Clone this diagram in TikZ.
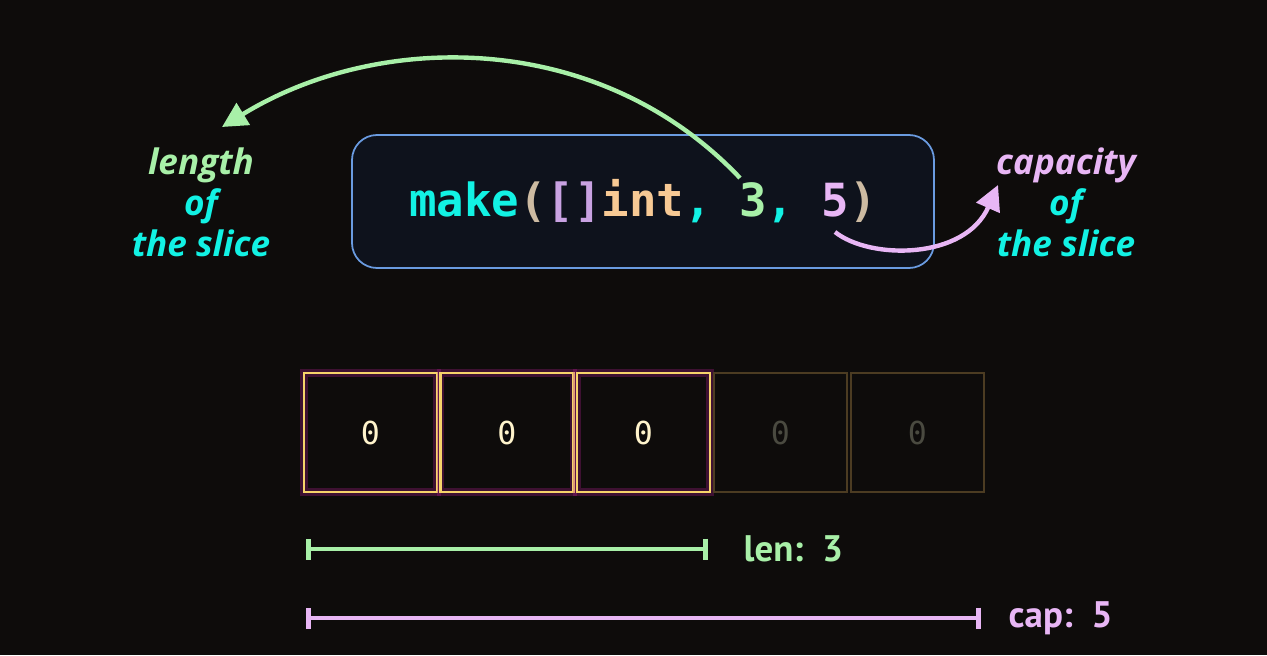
\documentclass[tikz,border=0pt]{standalone}
\usepackage{fontspec}
\setmainfont{Open Sans}
\newfontfamily\codefont{DejaVu Sans Mono}
\newfontfamily\spanfont{PT Sans}
\usetikzlibrary{arrows.meta}

\definecolor{bgdark}{HTML}{0E0C0B}
\definecolor{boxfill}{HTML}{0E121C}
\definecolor{boxline}{HTML}{6A9BE0}
\definecolor{callcyan}{HTML}{12F2E4}
\definecolor{lengreen}{HTML}{A8F0A8}
\definecolor{cappink}{HTML}{E8B6F5}
\definecolor{intpeach}{HTML}{F7C994}
\definecolor{parentan}{HTML}{CDBBA2}
\definecolor{brackpink}{HTML}{C9A2E2}
\definecolor{cellgold}{HTML}{F7D46A}
\definecolor{cellglow}{HTML}{B01E8E}
\definecolor{celldim}{HTML}{4C3C22}
\definecolor{zerolight}{HTML}{FFF4CC}
\definecolor{zerodim}{HTML}{4A4A40}

\begin{document}
\begin{tikzpicture}[
    callbox/.style={draw=boxline, fill=boxfill, line width=1pt, rounded corners=0.5cm,
      minimum width=11.64cm, minimum height=2.66cm, font=\codefont\bfseries\fontsize{26}{30}\selectfont},
    note/.style={align=center, text=callcyan, font=\bfseries\itshape\fontsize{20}{23.5}\selectfont},
    cell/.style={minimum width=2.66cm, minimum height=2.38cm, draw=cellgold, line width=1.6pt,
      text=zerolight, font=\codefont\fontsize{18}{20}\selectfont,
      preaction={draw=cellglow, line width=4.5pt, draw opacity=0.3}},
    spare/.style={minimum width=2.66cm, minimum height=2.38cm, draw=celldim, line width=1.4pt,
      text=zerodim, font=\codefont\fontsize{18}{20}\selectfont},
    pointer/.style={line width=2.5pt, -{Triangle[length=0.5cm, width=0.5cm]}},
    span/.style={line width=1.8pt, {Bar[width=0.42cm, line width=2.8pt]}-{Bar[width=0.42cm, line width=2.8pt]}},
    spanlabel/.style={anchor=west, font=\spanfont\bfseries\fontsize{21}{25}\selectfont}
  ]
  \fill[bgdark] (0,0) rectangle (25.34,13.1);

  % the call
  \node[callbox] (call) at (12.86,9.07)
    {\textcolor{callcyan}{make}\textcolor{parentan}{(}\textcolor{brackpink}{[]}\textcolor{intpeach}{int}\textcolor{callcyan}{,}
     \textcolor{lengreen}{3}\textcolor{callcyan}{,} \textcolor{cappink}{5}\textcolor{parentan}{)}};

  % side notes
  \node[note] (lennote) at (4.02,9.05) {\textcolor{lengreen}{length}\\of\\the slice};
  \node[note] (capnote) at (21.32,9.05) {\textcolor{cappink}{capacity}\\of\\the slice};

  \coordinate (lenfrom) at (14.8,9.54);
  \coordinate (lento) at (4.44,10.56);
  \coordinate (capfrom) at (16.7,8.46);
  \coordinate (capto) at (19.96,9.4);
  \draw[pointer, lengreen] (lenfrom) .. controls (12.0,12.5) and (7.6,12.5) .. (lento);
  \draw[pointer, cappink] (capfrom) .. controls (17.4,7.9) and (19.3,7.9) .. (capto);

  % backing array
  \node[cell] (c1) at (7.41,4.45) {0};
  \node[cell] (c2) at (10.14,4.45) {0};
  \node[cell] (c3) at (12.87,4.45) {0};
  \node[spare] (c4) at (15.61,4.45) {0};
  \node[spare] (c5) at (18.35,4.45) {0};

  % len and cap
  \coordinate (lenstart) at (6.12,2.12);
  \coordinate (lenend) at (14.16,2.12);
  \coordinate (capstart) at (6.12,0.74);
  \coordinate (capend) at (19.62,0.74);
  \draw[span, lengreen] (lenstart) -- (lenend);
  \draw[span, cappink] (capstart) -- (capend);
  \node[spanlabel, text=lengreen] (lenlabel) at (14.75,2.12) {len:\ \ 3};
  \node[spanlabel, text=cappink] (caplabel) at (20.05,0.74) {cap:\ \ 5};
\end{tikzpicture}
\end{document}
